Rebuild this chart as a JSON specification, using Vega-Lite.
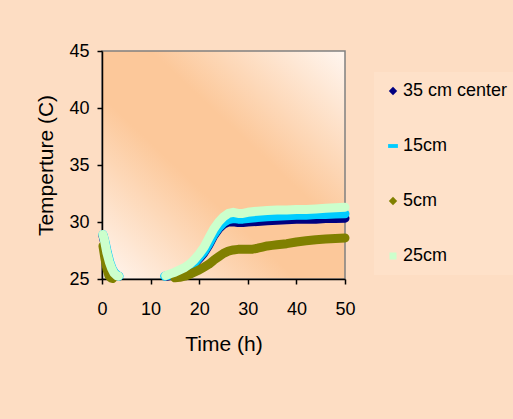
{
  "$schema": "https://vega.github.io/schema/vega-lite/v6.json",
  "width": 243,
  "height": 228,
  "autosize": {"type": "none"},
  "padding": {"left": 102, "top": 51, "right": 168, "bottom": 140},
  "background": "#FDDDC3",
  "config": {
    "font": "Liberation Sans",
    "view": {
      "stroke": "#808080",
      "strokeWidth": 1.5,
      "fill": {
        "gradient": "linear",
        "x1": 0, "y1": 1, "x2": 1, "y2": 0,
        "stops": [
          {"offset": 0, "color": "#FFF6F0"},
          {"offset": 0.4, "color": "#FCC89A"},
          {"offset": 0.6, "color": "#FCC89A"},
          {"offset": 1, "color": "#FFF6F0"}
        ]
      }
    },
    "axis": {
      "grid": false,
      "labelFlush": false,
      "labelFont": "Liberation Sans",
      "labelFontSize": 18,
      "labelColor": "#000000",
      "titleFont": "Liberation Sans",
      "titleFontSize": 21,
      "titleFontWeight": "normal",
      "titleColor": "#000000",
      "domainColor": "#000000",
      "domainWidth": 1.5,
      "tickColor": "#000000",
      "tickSize": 5,
      "tickWidth": 1.5
    },
    "axisX": {"labelPadding": 16, "titlePadding": 15},
    "axisY": {"labelPadding": 8, "titlePadding": 12}
  },
  "data": {
    "values": [
      {"s": "35 cm center", "p": 1, "t": 0.2, "T": 28.8},
      {"s": "35 cm center", "p": 1, "t": 0.6, "T": 28.1},
      {"s": "35 cm center", "p": 1, "t": 1.1, "T": 27.1},
      {"s": "35 cm center", "p": 1, "t": 1.6, "T": 26.3},
      {"s": "35 cm center", "p": 1, "t": 2.1, "T": 25.8},
      {"s": "35 cm center", "p": 1, "t": 2.6, "T": 25.45},
      {"s": "35 cm center", "p": 1, "t": 3.1, "T": 25.3},
      {"s": "35 cm center", "p": 1, "t": 3.4, "T": 25.25},
      {"s": "35 cm center", "p": 2, "t": 13.5, "T": 25.25},
      {"s": "35 cm center", "p": 2, "t": 14, "T": 25.3},
      {"s": "35 cm center", "p": 2, "t": 15, "T": 25.45},
      {"s": "35 cm center", "p": 2, "t": 16, "T": 25.6},
      {"s": "35 cm center", "p": 2, "t": 17, "T": 25.8},
      {"s": "35 cm center", "p": 2, "t": 18, "T": 26.05},
      {"s": "35 cm center", "p": 2, "t": 19, "T": 26.35},
      {"s": "35 cm center", "p": 2, "t": 20, "T": 26.8},
      {"s": "35 cm center", "p": 2, "t": 21, "T": 27.3},
      {"s": "35 cm center", "p": 2, "t": 22, "T": 28.0},
      {"s": "35 cm center", "p": 2, "t": 23, "T": 28.8},
      {"s": "35 cm center", "p": 2, "t": 24, "T": 29.4},
      {"s": "35 cm center", "p": 2, "t": 25, "T": 29.8},
      {"s": "35 cm center", "p": 2, "t": 26, "T": 30.0},
      {"s": "35 cm center", "p": 2, "t": 27, "T": 30.02},
      {"s": "35 cm center", "p": 2, "t": 28, "T": 29.95},
      {"s": "35 cm center", "p": 2, "t": 29, "T": 29.95},
      {"s": "35 cm center", "p": 2, "t": 30, "T": 30.0},
      {"s": "35 cm center", "p": 2, "t": 32, "T": 30.05},
      {"s": "35 cm center", "p": 2, "t": 34, "T": 30.1},
      {"s": "35 cm center", "p": 2, "t": 36, "T": 30.15},
      {"s": "35 cm center", "p": 2, "t": 38, "T": 30.2},
      {"s": "35 cm center", "p": 2, "t": 40, "T": 30.25},
      {"s": "35 cm center", "p": 2, "t": 42, "T": 30.25},
      {"s": "35 cm center", "p": 2, "t": 44, "T": 30.25},
      {"s": "35 cm center", "p": 2, "t": 46, "T": 30.3},
      {"s": "35 cm center", "p": 2, "t": 48, "T": 30.3},
      {"s": "35 cm center", "p": 2, "t": 50, "T": 30.33},

      {"s": "15cm", "p": 1, "t": 0.2, "T": 28.9},
      {"s": "15cm", "p": 1, "t": 0.6, "T": 28.3},
      {"s": "15cm", "p": 1, "t": 1.1, "T": 27.3},
      {"s": "15cm", "p": 1, "t": 1.6, "T": 26.5},
      {"s": "15cm", "p": 1, "t": 2.1, "T": 25.9},
      {"s": "15cm", "p": 1, "t": 2.6, "T": 25.55},
      {"s": "15cm", "p": 1, "t": 3.1, "T": 25.35},
      {"s": "15cm", "p": 1, "t": 3.5, "T": 25.25},
      {"s": "15cm", "p": 2, "t": 12.9, "T": 25.25},
      {"s": "15cm", "p": 2, "t": 14, "T": 25.35},
      {"s": "15cm", "p": 2, "t": 15, "T": 25.5},
      {"s": "15cm", "p": 2, "t": 16, "T": 25.65},
      {"s": "15cm", "p": 2, "t": 17, "T": 25.85},
      {"s": "15cm", "p": 2, "t": 18, "T": 26.1},
      {"s": "15cm", "p": 2, "t": 19, "T": 26.4},
      {"s": "15cm", "p": 2, "t": 20, "T": 26.9},
      {"s": "15cm", "p": 2, "t": 21, "T": 27.4},
      {"s": "15cm", "p": 2, "t": 22, "T": 28.1},
      {"s": "15cm", "p": 2, "t": 23, "T": 28.9},
      {"s": "15cm", "p": 2, "t": 24, "T": 29.5},
      {"s": "15cm", "p": 2, "t": 25, "T": 29.95},
      {"s": "15cm", "p": 2, "t": 26, "T": 30.2},
      {"s": "15cm", "p": 2, "t": 27, "T": 30.3},
      {"s": "15cm", "p": 2, "t": 28, "T": 30.25},
      {"s": "15cm", "p": 2, "t": 29, "T": 30.25},
      {"s": "15cm", "p": 2, "t": 30, "T": 30.3},
      {"s": "15cm", "p": 2, "t": 32, "T": 30.4},
      {"s": "15cm", "p": 2, "t": 34, "T": 30.45},
      {"s": "15cm", "p": 2, "t": 36, "T": 30.5},
      {"s": "15cm", "p": 2, "t": 38, "T": 30.55},
      {"s": "15cm", "p": 2, "t": 40, "T": 30.6},
      {"s": "15cm", "p": 2, "t": 42, "T": 30.6},
      {"s": "15cm", "p": 2, "t": 44, "T": 30.65},
      {"s": "15cm", "p": 2, "t": 46, "T": 30.65},
      {"s": "15cm", "p": 2, "t": 48, "T": 30.7},
      {"s": "15cm", "p": 2, "t": 50, "T": 30.72},

      {"s": "5cm", "p": 1, "t": 0.2, "T": 27.9},
      {"s": "5cm", "p": 1, "t": 0.6, "T": 26.8},
      {"s": "5cm", "p": 1, "t": 1, "T": 25.9},
      {"s": "5cm", "p": 1, "t": 1.4, "T": 25.3},
      {"s": "5cm", "p": 1, "t": 1.8, "T": 25.1},
      {"s": "5cm", "p": 1, "t": 2.2, "T": 25.05},
      {"s": "5cm", "p": 2, "t": 15, "T": 25.1},
      {"s": "5cm", "p": 2, "t": 16, "T": 25.15},
      {"s": "5cm", "p": 2, "t": 17, "T": 25.25},
      {"s": "5cm", "p": 2, "t": 18, "T": 25.4},
      {"s": "5cm", "p": 2, "t": 19, "T": 25.6},
      {"s": "5cm", "p": 2, "t": 20, "T": 25.8},
      {"s": "5cm", "p": 2, "t": 21, "T": 26.05},
      {"s": "5cm", "p": 2, "t": 22, "T": 26.3},
      {"s": "5cm", "p": 2, "t": 23, "T": 26.65},
      {"s": "5cm", "p": 2, "t": 24, "T": 26.95},
      {"s": "5cm", "p": 2, "t": 25, "T": 27.25},
      {"s": "5cm", "p": 2, "t": 26, "T": 27.45},
      {"s": "5cm", "p": 2, "t": 27, "T": 27.55},
      {"s": "5cm", "p": 2, "t": 28, "T": 27.6},
      {"s": "5cm", "p": 2, "t": 29, "T": 27.6},
      {"s": "5cm", "p": 2, "t": 30, "T": 27.6},
      {"s": "5cm", "p": 2, "t": 31, "T": 27.62},
      {"s": "5cm", "p": 2, "t": 32, "T": 27.7},
      {"s": "5cm", "p": 2, "t": 33, "T": 27.8},
      {"s": "5cm", "p": 2, "t": 34, "T": 27.9},
      {"s": "5cm", "p": 2, "t": 35, "T": 27.95},
      {"s": "5cm", "p": 2, "t": 36, "T": 28.0},
      {"s": "5cm", "p": 2, "t": 38, "T": 28.1},
      {"s": "5cm", "p": 2, "t": 40, "T": 28.25},
      {"s": "5cm", "p": 2, "t": 42, "T": 28.35},
      {"s": "5cm", "p": 2, "t": 44, "T": 28.45},
      {"s": "5cm", "p": 2, "t": 46, "T": 28.5},
      {"s": "5cm", "p": 2, "t": 48, "T": 28.55},
      {"s": "5cm", "p": 2, "t": 50, "T": 28.6},

      {"s": "25cm", "p": 1, "t": 0.2, "T": 28.9},
      {"s": "25cm", "p": 1, "t": 0.5, "T": 28.4},
      {"s": "25cm", "p": 1, "t": 1, "T": 27.3},
      {"s": "25cm", "p": 1, "t": 1.5, "T": 26.5},
      {"s": "25cm", "p": 1, "t": 2, "T": 25.9},
      {"s": "25cm", "p": 1, "t": 2.5, "T": 25.5},
      {"s": "25cm", "p": 1, "t": 3, "T": 25.3},
      {"s": "25cm", "p": 1, "t": 3.4, "T": 25.25},
      {"s": "25cm", "p": 2, "t": 13.1, "T": 25.3},
      {"s": "25cm", "p": 2, "t": 14, "T": 25.45},
      {"s": "25cm", "p": 2, "t": 15, "T": 25.6},
      {"s": "25cm", "p": 2, "t": 16, "T": 25.8},
      {"s": "25cm", "p": 2, "t": 17, "T": 26.0},
      {"s": "25cm", "p": 2, "t": 18, "T": 26.3},
      {"s": "25cm", "p": 2, "t": 19, "T": 26.7},
      {"s": "25cm", "p": 2, "t": 20, "T": 27.2},
      {"s": "25cm", "p": 2, "t": 21, "T": 27.8},
      {"s": "25cm", "p": 2, "t": 22, "T": 28.6},
      {"s": "25cm", "p": 2, "t": 23, "T": 29.4},
      {"s": "25cm", "p": 2, "t": 24, "T": 30.0},
      {"s": "25cm", "p": 2, "t": 25, "T": 30.45},
      {"s": "25cm", "p": 2, "t": 26, "T": 30.75},
      {"s": "25cm", "p": 2, "t": 27, "T": 30.85},
      {"s": "25cm", "p": 2, "t": 28, "T": 30.75},
      {"s": "25cm", "p": 2, "t": 29, "T": 30.75},
      {"s": "25cm", "p": 2, "t": 30, "T": 30.85},
      {"s": "25cm", "p": 2, "t": 32, "T": 30.95},
      {"s": "25cm", "p": 2, "t": 34, "T": 31.0},
      {"s": "25cm", "p": 2, "t": 36, "T": 31.05},
      {"s": "25cm", "p": 2, "t": 38, "T": 31.05},
      {"s": "25cm", "p": 2, "t": 40, "T": 31.1},
      {"s": "25cm", "p": 2, "t": 42, "T": 31.1},
      {"s": "25cm", "p": 2, "t": 44, "T": 31.15},
      {"s": "25cm", "p": 2, "t": 46, "T": 31.2},
      {"s": "25cm", "p": 2, "t": 48, "T": 31.25},
      {"s": "25cm", "p": 2, "t": 50, "T": 31.3}
    ]
  },
  "encoding": {
    "x": {
      "field": "t",
      "type": "quantitative",
      "scale": {"domain": [0, 50], "nice": false},
      "axis": {"values": [0, 10, 20, 30, 40, 50], "title": "Time (h)"}
    },
    "y": {
      "field": "T",
      "type": "quantitative",
      "scale": {"domain": [25, 45], "nice": false, "zero": false},
      "axis": {"values": [25, 30, 35, 40, 45], "title": "Temperture (C)"}
    }
  },
  "layer": [
    {
      "mark": {"type": "point", "filled": true, "size": 30, "opacity": 1},
      "encoding": {
        "color": {
          "field": "s",
          "type": "nominal",
          "scale": {"domain": ["35 cm center", "15cm", "5cm", "25cm"], "range": ["#000080", "#00CCFF", "#808000", "#CCFFCC"]},
          "legend": {"title": null, "orient": "none", "legendX": 272, "legendY": 21, "padding": 10, "labelFontSize": 18, "labelColor": "#000000", "rowPadding": 37, "symbolSize": 49, "labelOffset": 1, "fillColor": "#FEE1C9", "symbolStrokeWidth": 0, "labelLimit": 200}
        },
        "shape": {
          "field": "s",
          "type": "nominal",
          "scale": {"domain": ["35 cm center", "15cm", "5cm", "25cm"], "range": ["M0,-1.2L1.2,0L0,1.2L-1.2,0Z", "M-1.4,-0.55H1.4V0.55H-1.4Z", "M0,-1.2L1.2,0L0,1.2L-1.2,0Z", "M-1,-1H1V1H-1Z"]},
          "legend": {"title": null, "orient": "none", "legendX": 272, "legendY": 21, "padding": 10, "labelFontSize": 18, "labelColor": "#000000", "rowPadding": 37, "symbolSize": 49, "labelOffset": 1, "fillColor": "#FEE1C9", "symbolStrokeWidth": 0, "labelLimit": 200}
        }
      }
    },
    {
      "transform": [{"filter": "datum.s === '35 cm center'"}],
      "mark": {"type": "line", "color": "#000080", "strokeWidth": 9, "strokeCap": "round", "strokeJoin": "round"},
      "encoding": {"detail": {"field": "p", "type": "nominal"}}
    },
    {
      "transform": [{"filter": "datum.s === '15cm'"}],
      "mark": {"type": "line", "color": "#00CCFF", "strokeWidth": 9, "strokeCap": "round", "strokeJoin": "round"},
      "encoding": {"detail": {"field": "p", "type": "nominal"}}
    },
    {
      "transform": [{"filter": "datum.s === '5cm'"}],
      "mark": {"type": "line", "color": "#808000", "strokeWidth": 9, "strokeCap": "round", "strokeJoin": "round"},
      "encoding": {"detail": {"field": "p", "type": "nominal"}}
    },
    {
      "transform": [{"filter": "datum.s === '25cm'"}],
      "mark": {"type": "line", "color": "#CCFFCC", "strokeWidth": 9, "strokeCap": "round", "strokeJoin": "round"},
      "encoding": {"detail": {"field": "p", "type": "nominal"}}
    }
  ]
}
